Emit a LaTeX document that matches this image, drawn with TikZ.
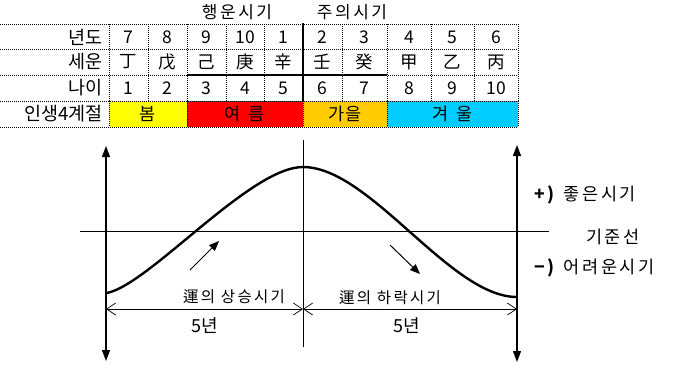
\documentclass[tikz,border=0pt]{standalone}
\usepackage{fontspec}
\setmainfont{Noto Sans CJK KR}
\newfontfamily\krwide[LetterSpace=15]{Noto Sans CJK KR}
\usetikzlibrary{arrows.meta}
\definecolor{cspring}{HTML}{FFFF00}
\definecolor{csummer}{HTML}{FF0000}
\definecolor{cautumn}{HTML}{FFCC00}
\definecolor{cwinter}{HTML}{00CCFF}
\begin{document}
\begin{tikzpicture}[x=1pt,y=-1pt,
  dotline/.style={line width=0.9pt, dash pattern=on 1pt off 1pt},
  thickline/.style={line width=2.4pt},
  cell/.style={inner sep=0pt, anchor=center, font=\fontsize{17.5}{17.5}\selectfont},
  rowlab/.style={inner sep=0pt, anchor=east, font=\fontsize{18.5}{18.5}\selectfont},
  hdr/.style={inner sep=0pt, anchor=center, font=\krwide\fontsize{17}{17}\selectfont},
  axisline/.style={line width=1.3pt, {Triangle[length=11pt,width=8pt]}-{Triangle[length=11pt,width=8pt]}},
  thinline/.style={line width=1pt},
  dimline/.style={line width=1pt, {Straight Barb[length=9pt,width=12pt,line width=0.7pt]}-{Straight Barb[length=9pt,width=12pt,line width=0.7pt]}},
  curveline/.style={line width=2.4pt, line cap=round},
  smallarrow/.style={line width=1pt, -{Triangle[length=10pt,width=8pt]}},
  clab/.style={inner sep=0pt, font=\krwide\fontsize{15.5}{15.5}\selectfont},
  dlab/.style={inner sep=0pt, font=\fontsize{18}{18}\selectfont},
  rlab/.style={inner sep=0pt, anchor=west, font=\krwide\fontsize{17.5}{17.5}\selectfont},
]
\useasboundingbox (0,0) rectangle (673,384);
% season fills
\fill[cspring] (109,101) rectangle (187,127);
\fill[csummer] (187,101) rectangle (303,127);
\fill[cautumn] (303,101) rectangle (387,127);
\fill[cwinter] (387,101) rectangle (518,127);
% grid lines
\foreach \yy in {24,49,75,101,127} \draw[dotline] (0,\yy) -- (518,\yy);
\foreach \xx in {109,148,187,226,264,342,387,431,474,518} \draw[dotline] (\xx,24) -- (\xx,101);
\foreach \xx in {109,187,303,387,518} \draw[dotline] (\xx,101) -- (\xx,127);
\draw[thickline] (303,23) -- (303,102);
\draw[thickline] (187,75) -- (387,75);
% header
\node[hdr] (h1) at (237,12) {행운시기};
\node[hdr] (h2) at (352,12) {주의시기};
% row labels
\node[rowlab] (r1) at (103,37) {년도};
\node[rowlab] (r2) at (103,62) {세운};
\node[rowlab] (r3) at (103,88) {나이};
\node[rowlab] (r4) at (103,114) {인생4계절};
% cells
\foreach \cx/\a/\b/\c [count=\i] in {128.5/7/丁/1, 167.5/8/戊/2, 206.5/9/己/3, 245/10/庚/4, 283.5/1/辛/5, 322.5/2/壬/6, 364.5/3/癸/7, 409/4/甲/8, 452.5/5/乙/9, 496/6/丙/10}{
  \node[cell] (y\i) at (\cx,37) {\a};
  \node[cell] (s\i) at (\cx,62) {\b};
  \node[cell] (n\i) at (\cx,88) {\c};
}
\node[cell] (spring) at (148,114) {봄};
\node[cell] (summer) at (245,114) {여\ \ 름};
\node[cell] (autumn) at (345,114) {가을};
\node[cell] (winter) at (452.5,114) {겨\ \ 울};
% chart
\coordinate (Lb) at (106,361); \coordinate (Lt) at (106,146);
\coordinate (Rb) at (517,362); \coordinate (Rt) at (517,145);
\coordinate (Ct) at (303,140); \coordinate (Cb) at (303,347);
\coordinate (B0) at (80,231); \coordinate (B1) at (549,231);
\draw[axisline] (Lb) -- (Lt);
\draw[axisline] (Rb) -- (Rt);
\draw[thinline] (Ct) -- (Cb);
\draw[thinline] (B0) -- (B1);
\coordinate (P0) at (107,293); \coordinate (P1) at (303,167); \coordinate (P2) at (517,297);
\draw[curveline] (P0) .. controls (150,284) and (250,167) .. (P1)
                      .. controls (370,167) and (450,297) .. (P2);
\coordinate (D0) at (106,309); \coordinate (D1) at (303,309); \coordinate (D2) at (517,309);
\draw[dimline] (D0) -- (D1);
\draw[dimline] (D1) -- (D2);
\coordinate (a1s) at (190,270); \coordinate (a1e) at (219,241);
\coordinate (a2s) at (390,245); \coordinate (a2e) at (420,274);
\draw[smallarrow] (a1s) -- (a1e);
\draw[smallarrow] (a2s) -- (a2e);
\node[clab] (up) at (234,297) {運의 상승시기};
\node[clab] (down) at (390,298) {運의 하락시기};
\node[dlab] (f1) at (205,326) {5년};
\node[dlab] (f2) at (407,326) {5년};
\node[rlab] (good) at (534,195) {\textbf{+)} 좋은시기};
\node[rlab] (base) at (586,237) {기준선};
\node[rlab] (bad) at (534,268) {\textbf{−)} 어려운시기};
\end{tikzpicture}
\end{document}
